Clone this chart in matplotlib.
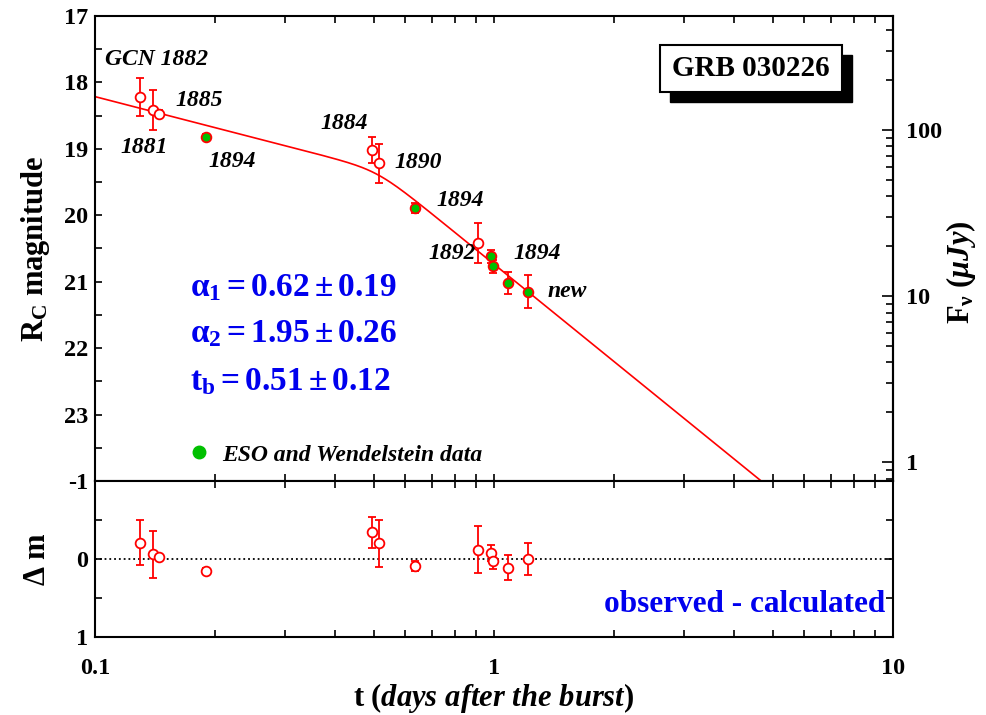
import numpy as np
import matplotlib
matplotlib.use('Agg')
import matplotlib.pyplot as plt
from matplotlib.lines import Line2D
from matplotlib.patches import Rectangle
from matplotlib.ticker import FixedLocator, MultipleLocator, FuncFormatter, NullFormatter

plt.rcParams.update({
    'font.family': 'Liberation Serif',
    'font.weight': 'bold',
    'axes.labelweight': 'bold',
    'axes.unicode_minus': False,
    'mathtext.fontset': 'custom',
    'mathtext.rm': 'Liberation Serif:bold',
    'mathtext.it': 'Liberation Serif:italic:bold',
    'mathtext.bf': 'Liberation Serif:bold',
    'axes.linewidth': 1.5,
})

# R-band photometry (days after the burst, magnitude, 1-sigma error)
t_obs = [0.130, 0.140, 0.145, 0.190, 0.494, 0.515, 0.634, 0.913, 0.981, 0.992, 1.082, 1.215]
mag_obs = [18.22, 18.41, 18.47, 18.82, 19.02, 19.22, 19.89, 20.42, 20.62, 20.77, 21.02, 21.15]
mag_err = [0.29, 0.30, 0.05, 0.05, 0.20, 0.29, 0.08, 0.30, 0.10, 0.10, 0.17, 0.25]
is_eso = [False, False, False, True, False, False, True, False, True, True, True, True]

# residuals of the fit (observed - calculated)
dm_obs = [-0.21, -0.06, -0.03, 0.15, -0.34, -0.20, 0.09, -0.12, -0.08, 0.03, 0.11, 0.00]
dm_err = [0.29, 0.30, 0.04, 0.04, 0.20, 0.30, 0.07, 0.30, 0.10, 0.10, 0.16, 0.20]

# GCN circular numbers next to the points
gcn_text = ['GCN 1882', '1885', '1881', '1894', '1884', '1890', '1894', '1892', '1894', 'new']
gcn_t = [0.143, 0.183, 0.1327, 0.2205, 0.421, 0.645, 0.822, 0.785, 1.28, 1.527]
gcn_mag = [17.66, 18.27, 18.98, 19.19, 18.62, 19.21, 19.78, 20.57, 20.57, 21.14]

# broken power-law fit
alpha1, alpha2, t_break = 0.62, 1.95, 0.51
m_break, smooth = 19.31, 10.0

fit_text = [r'$\mathbf{\alpha_1 = 0.62 \pm 0.19}$',
            r'$\mathbf{\alpha_2 = 1.95 \pm 0.26}$',
            r'$\mathbf{t_b = 0.51 \pm 0.12}$']
fit_text_mag = [21.09, 21.79, 22.50]


def broken_pl(t):
    x = np.asarray(t) / t_break
    return m_break + 2.5 / smooth * np.log10(x ** (alpha1 * smooth) + x ** (alpha2 * smooth))


def mag_to_flux(m):
    return 3.08e9 * 10 ** (-0.4 * np.asarray(m, dtype=float))


def flux_to_mag(f):
    f = np.clip(np.asarray(f, dtype=float), 1e-6, None)
    return -2.5 * np.log10(f / 3.08e9)


fig = plt.figure(figsize=(9.86, 7.15), dpi=100)
ax = fig.add_axes([0.0963, 0.3273, 0.8094, 0.6503])
axr = fig.add_axes([0.0963, 0.1091, 0.8094, 0.2182], sharex=ax)

t_obs = np.array(t_obs)
mag_obs = np.array(mag_obs)
mag_err = np.array(mag_err)
dm_obs = np.array(dm_obs)
dm_err = np.array(dm_err)
eso = np.array(is_eso)

t_fit = np.logspace(-1, 1, 500)
ax.plot(t_fit, broken_pl(t_fit), color='red', lw=1.2, zorder=2)

style = dict(fmt='o', ms=7, mec='red', mew=1.3, ecolor='red', elinewidth=1.3,
             capsize=3, capthick=1.3, zorder=3)
ax.errorbar(t_obs[~eso], mag_obs[~eso], yerr=mag_err[~eso], mfc='white', **style)
ax.errorbar(t_obs[eso], mag_obs[eso], yerr=mag_err[eso], mfc='#00c000', **style)

for txt, tt, mm in zip(gcn_text, gcn_t, gcn_mag):
    ax.text(tt, mm, txt, ha='center', va='center', fontsize=17, style='italic',
            weight='bold', color='black')

for txt, mm in zip(fit_text, fit_text_mag):
    ax.text(0.173, mm, txt, ha='left', va='center', fontsize=24, color='#0000ee')

ax.set_xscale('log')
ax.set_xlim(0.1, 10)
ax.set_ylim(24, 17)
ax.set_yticks(range(17, 24))
ax.yaxis.set_minor_locator(MultipleLocator(0.5))
ax.tick_params(which='both', direction='in', top=True, bottom=True, left=True,
               right=False, labelbottom=False, length=5, width=1.2,
               labelsize=17.5, pad=5)
ax.set_ylabel(r'$\mathrm{R_C}$ magnitude', fontsize=22)
ax.yaxis.set_label_coords(-0.054, 0.5)

# flux density scale on the right
secax = ax.secondary_yaxis('right', functions=(mag_to_flux, flux_to_mag))
secax.yaxis.set_major_locator(FixedLocator([1, 10, 100]))
minor_flux = [k * 10.0 ** e for e in (-1, 0, 1, 2) for k in range(2, 10)]
secax.yaxis.set_minor_locator(FixedLocator(minor_flux))
secax.yaxis.set_major_formatter(FuncFormatter(lambda v, _: f'{v:g}'))
secax.yaxis.set_minor_formatter(NullFormatter())
secax.tick_params(which='major', direction='in', length=8, width=1.2, labelsize=17.5, pad=9)
secax.tick_params(which='minor', direction='in', length=5, width=1.2)
secax.set_ylabel(r'$\mathrm{F_\nu}$ $(\mu Jy)$', fontsize=22, rotation=90)
secax.yaxis.set_label_coords(1.064, 0.45, transform=ax.transAxes)

# label box with a drop shadow
ax.add_patch(Rectangle((0.720, 0.815), 0.228, 0.101, transform=ax.transAxes,
                       facecolor='black', edgecolor='black', clip_on=False, zorder=4))
ax.add_patch(Rectangle((0.708, 0.836), 0.228, 0.101, transform=ax.transAxes,
                       facecolor='white', edgecolor='black', lw=1.5, clip_on=False, zorder=5))
ax.text(0.822, 0.8865, 'GRB 030226', transform=ax.transAxes, ha='center', va='center',
        fontsize=21, weight='bold', zorder=6)

handle = Line2D([], [], ls='', marker='o', ms=9, mfc='#00c000', mec='#00c000')
ax.legend(handles=[handle], labels=['ESO and Wendelstein data'], loc='center left',
          bbox_to_anchor=(0.118, 0.056), frameon=False, handlelength=0.8,
          handletextpad=0.6, borderaxespad=0, borderpad=0,
          prop=dict(family='Liberation Serif', style='italic', weight='bold', size=17))

# residual panel
axr.axhline(0, color='black', ls=':', lw=1.3, zorder=1)
axr.errorbar(t_obs, dm_obs, yerr=dm_err, mfc='white', **style)
axr.set_ylim(1, -1)
axr.set_yticks([-1, 0, 1])
axr.yaxis.set_minor_locator(MultipleLocator(0.5))
axr.xaxis.set_major_formatter(FuncFormatter(lambda v, _: f'{v:g}'))
axr.xaxis.set_minor_formatter(NullFormatter())
axr.tick_params(which='both', direction='in', top=True, bottom=True, left=True,
                right=True, length=5, width=1.2, labelsize=17.5)
axr.tick_params(axis='x', pad=15)
axr.tick_params(axis='y', pad=5)
axr.set_ylabel(r'$\Delta$ m', fontsize=22)
axr.yaxis.set_label_coords(-0.054, 0.5)
axr.set_xlabel(r'$\mathrm{t}$ $(days\ after\ the\ burst)$', fontsize=22)
axr.xaxis.set_label_coords(0.5, -0.28)
axr.text(0.99, 0.21, 'observed - calculated', transform=axr.transAxes, ha='right',
         va='center', fontsize=22.5, color='#0000ee')

fig.savefig('out.png', dpi=100)
